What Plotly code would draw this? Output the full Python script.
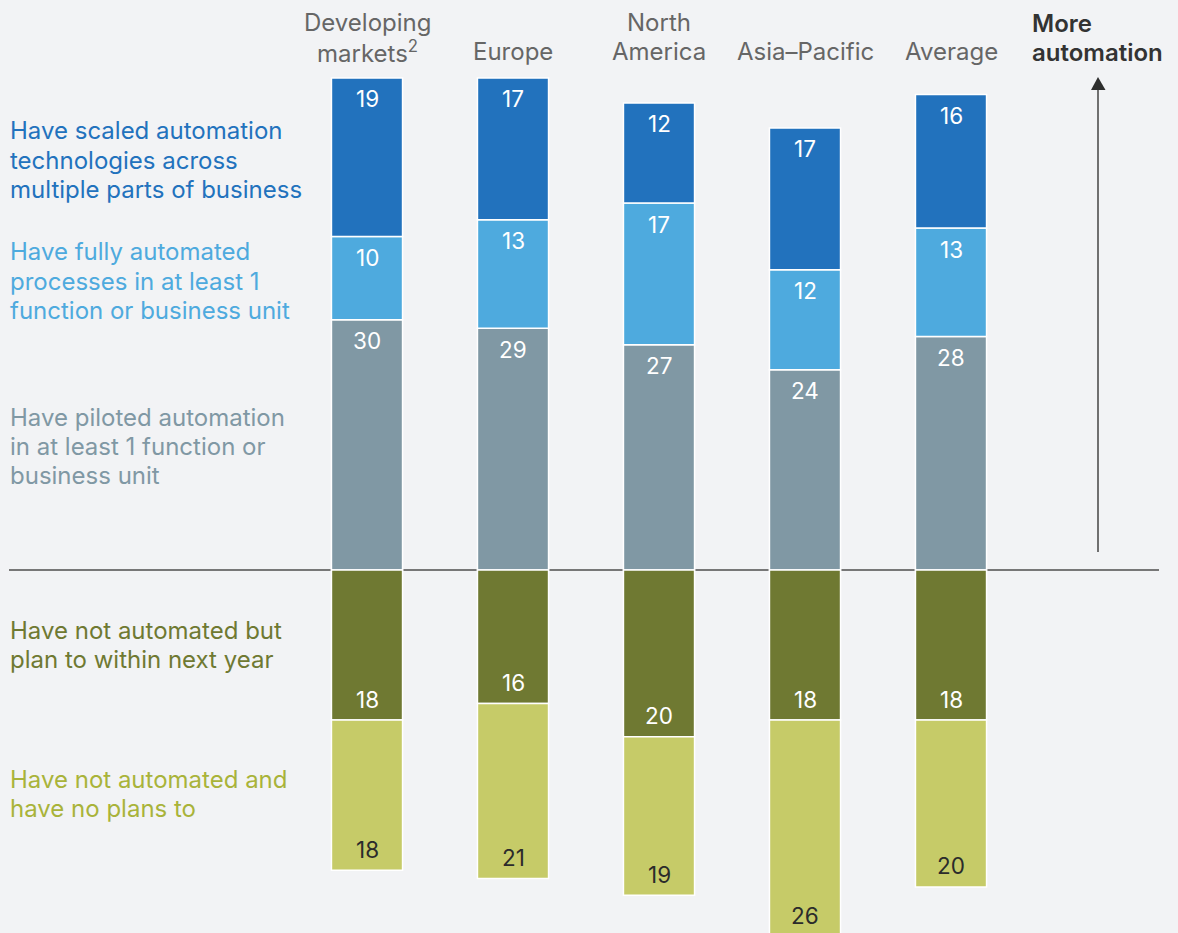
import plotly.graph_objects as go

# Regions (columns) and header labels, one list entry per header line
regions = ["Developing markets", "Europe", "North America", "Asia-Pacific", "Average"]
region_headers = [["Developing", "markets<sup>2</sup>"], ["Europe"], ["North", "America"],
                  ["Asia\u2013Pacific"], ["Average"]]

# Share of respondents, % (above the line = some automation, below = none)
piloted = [30, 29, 27, 24, 28]
fully_automated = [10, 13, 17, 12, 13]
scaled = [19, 17, 12, 17, 16]
plan_next_year = [18, 16, 20, 18, 18]
no_plans = [18, 21, 19, 26, 20]

series = [
    (["Have piloted automation", "in at least 1 function or", "business unit"], piloted, "#8098a4", "white", "#8098a4", 1),
    (["Have fully automated", "processes in at least 1", "function or business unit"], fully_automated, "#4eaade", "white", "#4eaade", 1),
    (["Have scaled automation", "technologies across", "multiple parts of business"], scaled, "#2272bd", "white", "#2272bd", 1),
    (["Have not automated but", "plan to within next year"], plan_next_year, "#6f7932", "white", "#6f7932", -1),
    (["Have not automated and", "have no plans to"], no_plans, "#c6cb68", "#2b2b2b", "#a9b33a", -1),
]

FONT = "Inter, Liberation Sans, Arial, sans-serif"
W, H = 1178, 933
PX_PER_UNIT = 8.34
BASE_PX = 570
SPACING_PX = 146
FIRST_PX = 367
LINE_PX = 29.3
LABEL_INSET_PX = 21

x_idx = list(range(len(regions)))
xmin = -FIRST_PX / SPACING_PX
xmax = xmin + W / SPACING_PX
ytop = BASE_PX / PX_PER_UNIT
ybot = -(H - BASE_PX) / PX_PER_UNIT


def py(px):
    """Convert a pixel row (from the top) to paper coordinates."""
    return 1 - px / H


fig = go.Figure()
annotations = []
pos_cum = [0] * len(regions)
neg_cum = [0] * len(regions)
inset = LABEL_INSET_PX / PX_PER_UNIT

for lines, vals, color, txt_color, lbl_color, sign in series:
    fig.add_trace(go.Bar(
        x=x_idx, y=[sign * v for v in vals], name=" ".join(lines),
        marker=dict(color=color, line=dict(color="white", width=1.5)),
        width=0.487, showlegend=False, hoverinfo="skip",
    ))
    # value labels just inside the outer end of each segment
    for i, v in enumerate(vals):
        if sign > 0:
            pos_cum[i] += v
            y = pos_cum[i] - inset
        else:
            neg_cum[i] -= v
            y = neg_cum[i] + inset
        annotations.append(dict(
            x=i, y=y, xref="x", yref="y", text=str(v), showarrow=False,
            yanchor="middle",
            font=dict(family=FONT, size=22.5, color=txt_color),
        ))

# Row labels on the left, one annotation per line
first_line_px = [417, 252, 131, 630, 779]
for (lines, vals, color, txt_color, lbl_color, sign), y0 in zip(series, first_line_px):
    for k, line in enumerate(lines):
        annotations.append(dict(
            x=8 / W, y=py(y0 + k * LINE_PX), xref="paper", yref="paper", text=line,
            showarrow=False, xanchor="left", yanchor="middle",
            font=dict(family=FONT, size=24, color=lbl_color),
        ))

# Column headers, bottom line at the same height for all columns
for i, hdr in enumerate(region_headers):
    n = len(hdr)
    for k, line in enumerate(hdr):
        annotations.append(dict(
            x=i, y=py(52 - (n - 1 - k) * LINE_PX), xref="x", yref="paper", text=line,
            showarrow=False, xanchor="center", yanchor="middle",
            font=dict(family=FONT, size=24, color="#666666"),
        ))

for k, line in enumerate(["More", "automation"]):
    annotations.append(dict(
        x=1030 / W, y=py(23 + k * LINE_PX), xref="paper", yref="paper",
        text=line, showarrow=False, xanchor="left", yanchor="middle",
        font=dict(family=FONT, size=24, color="#333333", weight=600),
    ))

ax_x = 1098 / W
shapes = [
    # zero line
    dict(type="line", xref="paper", yref="y", x0=9 / W, x1=1159 / W, y0=0, y1=0,
         line=dict(color="#777777", width=2), layer="below"),
    # arrow shaft
    dict(type="line", xref="paper", yref="paper", x0=ax_x, x1=ax_x,
         y0=py(552), y1=py(88), line=dict(color="#707070", width=2)),
    # arrow head
    dict(type="path", xref="paper", yref="paper",
         path=f"M {1091 / W},{py(90)} L {1105.5 / W},{py(90)} L {ax_x},{py(77)} Z",
         fillcolor="#2e2e2e", line=dict(color="#2e2e2e", width=0)),
]

fig.update_layout(
    width=W, height=H, barmode="relative",
    margin=dict(l=0, r=0, t=0, b=0),
    paper_bgcolor="#f2f3f5", plot_bgcolor="#f2f3f5",
    xaxis=dict(range=[xmin, xmax], visible=False, fixedrange=True),
    yaxis=dict(range=[ybot, ytop], visible=False, fixedrange=True),
    annotations=annotations, shapes=shapes,
    font=dict(family=FONT),
)

fig.write_html("out.html")
